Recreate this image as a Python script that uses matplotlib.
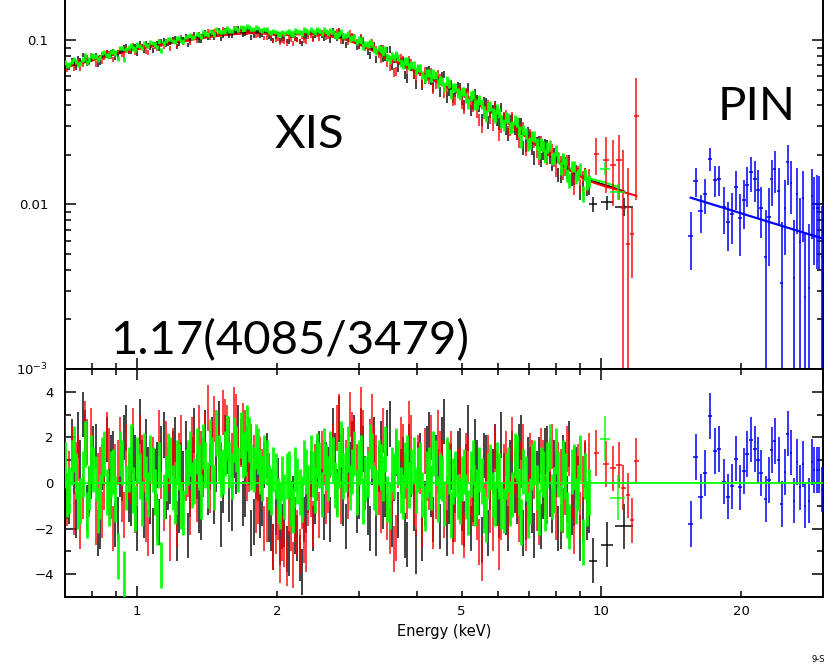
import matplotlib
matplotlib.use("Agg")
import matplotlib.pyplot as plt
import numpy as np
from matplotlib.ticker import (LogLocator, FixedLocator, FuncFormatter,
                               MultipleLocator, NullFormatter)

# ---- XIS spectra, 0.7-9.4 keV; two interleaved sets of bins (keV) ----
xis_e_a = [
    0.700, 0.715, 0.731, 0.747, 0.764, 0.780, 0.798, 0.815, 0.833, 0.851,
    0.870, 0.889, 0.909, 0.929, 0.949, 0.970, 0.991, 1.013, 1.035, 1.058,
    1.081, 1.105, 1.129, 1.154, 1.180, 1.206, 1.232, 1.259, 1.287, 1.315,
    1.344, 1.374, 1.404, 1.435, 1.466, 1.499, 1.531, 1.565, 1.600, 1.635,
    1.671, 1.707, 1.745, 1.783, 1.822, 1.862, 1.903, 1.945, 1.988, 2.032,
    2.076, 2.122, 2.168, 2.216, 2.265, 2.315, 2.365, 2.417, 2.471, 2.525,
    2.580, 2.637, 2.695, 2.754, 2.815, 2.877, 2.940, 3.004, 3.070, 3.138,
    3.207, 3.277, 3.349, 3.423, 3.498, 3.575, 3.654, 3.734, 3.816, 3.900,
    3.986, 4.073, 4.163, 4.254, 4.348, 4.443, 4.541, 4.641, 4.743, 4.847,
    4.954, 5.063, 5.174, 5.288, 5.404, 5.523, 5.645, 5.769, 5.896, 6.026,
    6.158, 6.294, 6.432, 6.574, 6.718, 6.866, 7.017, 7.171, 7.329, 7.491,
    7.655, 7.824, 7.996, 8.172, 8.352, 8.535, 8.723, 8.915, 9.111, 9.311,
]
xis_e_b = [
    0.708, 0.723, 0.739, 0.755, 0.772, 0.789, 0.806, 0.824, 0.842, 0.860,
    0.879, 0.899, 0.919, 0.939, 0.959, 0.980, 1.002, 1.024, 1.046, 1.069,
    1.093, 1.117, 1.141, 1.167, 1.193, 1.219, 1.245, 1.273, 1.301, 1.329,
    1.359, 1.389, 1.419, 1.450, 1.482, 1.515, 1.548, 1.582, 1.617, 1.653,
    1.689, 1.726, 1.764, 1.802, 1.842, 1.882, 1.924, 1.966, 2.010, 2.054,
    2.099, 2.145, 2.192, 2.240, 2.290, 2.340, 2.391, 2.444, 2.498, 2.552,
    2.608, 2.666, 2.724, 2.784, 2.846, 2.908, 2.972, 3.037, 3.104, 3.172,
    3.242, 3.313, 3.386, 3.460, 3.536, 3.614, 3.694, 3.775, 3.858, 3.943,
    4.029, 4.118, 4.208, 4.301, 4.395, 4.492, 4.591, 4.692, 4.795, 4.900,
    5.008, 5.118, 5.231, 5.346, 5.463, 5.584, 5.707, 5.832, 5.961, 6.092,
    6.226, 6.363, 6.503, 6.646, 6.792, 6.941, 7.094, 7.250, 7.410, 7.573,
    7.739, 7.910, 8.084, 8.262, 8.443, 8.629, 8.819, 9.013, 9.211, 9.413,
]
# folded model (counts/s/keV) at those bins, XIS1 normalisation
xis_model_a = [
    0.0705, 0.0716, 0.0728, 0.0739, 0.0751, 0.0763, 0.0775, 0.0787, 0.0799, 0.0811,
    0.0826, 0.0840, 0.0855, 0.0867, 0.0879, 0.0892, 0.0905, 0.0915, 0.0924, 0.0934,
    0.0944, 0.0955, 0.0965, 0.0976, 0.0988, 0.0999, 0.1010, 0.1020, 0.1030, 0.1040,
    0.1050, 0.1060, 0.1070, 0.1080, 0.1088, 0.1096, 0.1104, 0.1112, 0.1120, 0.1126,
    0.1131, 0.1135, 0.1138, 0.1140, 0.1140, 0.1135, 0.1128, 0.1118, 0.1110, 0.1108,
    0.1110, 0.1114, 0.1118, 0.1120, 0.1121, 0.1122, 0.1120, 0.1118, 0.1112, 0.1106,
    0.1095, 0.1084, 0.1071, 0.1056, 0.1038, 0.1018, 0.0996, 0.0972, 0.0947, 0.0922,
    0.0895, 0.0870, 0.0845, 0.0820, 0.0795, 0.0772, 0.0749, 0.0727, 0.0705, 0.0684,
    0.0663, 0.0644, 0.0624, 0.0606, 0.0588, 0.0570, 0.0553, 0.0535, 0.0519, 0.0502,
    0.0487, 0.0470, 0.0454, 0.0438, 0.0422, 0.0407, 0.0393, 0.0379, 0.0366, 0.0353,
    0.0337, 0.0322, 0.0308, 0.0294, 0.0280, 0.0267, 0.0254, 0.0242, 0.0231, 0.0220,
    0.0210, 0.0200, 0.0191, 0.0182, 0.0174, 0.0167, 0.0161, 0.0155, 0.0150, 0.0146,
]
xis_model_b = [
    0.0711, 0.0722, 0.0734, 0.0745, 0.0757, 0.0769, 0.0781, 0.0793, 0.0805, 0.0818,
    0.0833, 0.0848, 0.0861, 0.0873, 0.0885, 0.0899, 0.0910, 0.0920, 0.0929, 0.0939,
    0.0950, 0.0960, 0.0971, 0.0982, 0.0994, 0.1005, 0.1015, 0.1025, 0.1035, 0.1045,
    0.1055, 0.1065, 0.1075, 0.1084, 0.1092, 0.1100, 0.1108, 0.1116, 0.1123, 0.1129,
    0.1133, 0.1137, 0.1139, 0.1140, 0.1138, 0.1132, 0.1123, 0.1114, 0.1109, 0.1109,
    0.1112, 0.1116, 0.1119, 0.1121, 0.1122, 0.1121, 0.1119, 0.1115, 0.1109, 0.1101,
    0.1090, 0.1078, 0.1064, 0.1047, 0.1028, 0.1007, 0.0984, 0.0960, 0.0935, 0.0909,
    0.0883, 0.0858, 0.0833, 0.0808, 0.0784, 0.0761, 0.0738, 0.0716, 0.0695, 0.0674,
    0.0654, 0.0634, 0.0615, 0.0597, 0.0579, 0.0562, 0.0544, 0.0527, 0.0511, 0.0495,
    0.0479, 0.0462, 0.0446, 0.0430, 0.0415, 0.0400, 0.0386, 0.0373, 0.0360, 0.0345,
    0.0330, 0.0315, 0.0301, 0.0287, 0.0274, 0.0261, 0.0248, 0.0237, 0.0226, 0.0215,
    0.0205, 0.0196, 0.0187, 0.0178, 0.0171, 0.0164, 0.0158, 0.0153, 0.0148, 0.0144,
]
# relative 1-sigma error, one value per pair of neighbouring bins
xis_relerr = [
    0.036, 0.036, 0.035, 0.035, 0.035, 0.034, 0.034, 0.034, 0.033, 0.033,
    0.033, 0.032, 0.032, 0.032, 0.031, 0.031, 0.031, 0.030, 0.030, 0.030,
    0.030, 0.030, 0.030, 0.030, 0.030, 0.030, 0.030, 0.030, 0.030, 0.030,
    0.030, 0.030, 0.030, 0.030, 0.030, 0.030, 0.030, 0.030, 0.030, 0.030,
    0.030, 0.030, 0.030, 0.030, 0.030, 0.030, 0.030, 0.030, 0.030, 0.030,
    0.031, 0.031, 0.032, 0.032, 0.033, 0.033, 0.034, 0.034, 0.035, 0.035,
    0.036, 0.037, 0.038, 0.039, 0.040, 0.041, 0.042, 0.043, 0.044, 0.045,
    0.046, 0.047, 0.048, 0.049, 0.050, 0.051, 0.052, 0.053, 0.054, 0.055,
    0.056, 0.057, 0.058, 0.059, 0.060, 0.061, 0.062, 0.063, 0.064, 0.065,
    0.066, 0.067, 0.068, 0.069, 0.070, 0.071, 0.072, 0.073, 0.074, 0.075,
    0.076, 0.076, 0.077, 0.077, 0.078, 0.078, 0.079, 0.079, 0.080, 0.080,
    0.081, 0.081, 0.082, 0.082, 0.083, 0.083, 0.084, 0.084, 0.085, 0.085,
]
# cross-normalisation of each XIS unit
xis_norm = {"XIS0": 0.975, "XIS3": 0.965, "XIS1": 1.00}

# residuals (data-model)/sigma, bins a then bins b
res_xis0_a = [
    1.2, -0.8, 0.5, 2.1, 3.0, -1.1, 0.3, 1.6, -1.9, 0.9,
    -0.4, 1.3, -1.6, 0.2, 2.4, -0.9, 1.1, 2.7, -1.4, 0.6,
    -2.1, 0.8, 1.5, -0.6, 0.1, 1.9, -1.2, 0.4, -2.3, 1.0,
    0.3, -1.5, 2.2, 0.7, -0.8, 2.6, -0.3, 1.4, -1.1, 0.5,
    1.8, -0.5, 0.9, -1.7, 0.2, -0.9, 1.2, -2.0, -1.3, -2.6,
    -1.8, -3.1, -0.7, -2.4, -3.9, -1.2, 0.4, -0.8, 1.3, -1.5,
    0.6, 2.3, -0.4, 1.1, -1.9, 0.8, 2.0, -0.6, 1.5, -1.3,
    0.9, -2.2, 1.7, -0.5, 2.6, 0.2, -1.4, 1.0, -2.7, 0.4,
    -3.0, 1.2, -0.9, 2.1, -1.6, 0.5, 1.9, -2.2, 0.7, -0.3,
    1.4, -1.8, 2.4, -0.7, 0.9, -2.5, 1.1, -0.2, 1.6, -1.4,
    0.3, -2.0, 1.3, -0.8, 2.0, -1.5, 0.6, -2.3, 1.0, -0.6,
    1.5, -1.2, 0.4, -1.9, 0.8, 1.7, -0.9, 0.2, -1.6, -1.5,
]
res_xis0_b = [
    -0.6, 1.8, -1.4, 0.9, 2.2, -0.3, 1.5, -2.2, 0.7, 1.9,
    1.1, -1.8, 0.4, 2.0, -0.7, 1.4, -2.0, 0.9, 1.8, -0.8,
    0.5, -1.7, 2.1, -0.2, 1.3, -2.4, 0.8, 1.7, -0.5, 2.3,
    -1.2, 1.0, -0.4, 1.9, 0.6, -1.8, 2.0, -0.7, 1.2, 2.4,
    -0.9, 1.5, -2.2, 0.3, -1.4, 0.8, -1.6, -2.8, 0.1, -1.9,
    -2.9, -0.9, -2.1, -3.3, -1.6, -0.3, -2.0, 1.0, -0.4, 0.8,
    -1.6, 1.2, 2.8, -0.9, 0.4, 1.7, -1.2, 2.3, 0.2, -2.0,
    1.9, 0.6, -1.0, 2.2, -1.8, 1.3, 0.5, -2.3, 1.6, -1.1,
    0.8, -2.4, 1.5, -0.5, 1.1, -1.9, 2.7, -0.8, -1.6, 1.3,
    -1.1, 0.7, -2.0, 1.8, -0.4, 1.2, -2.2, 0.5, -0.9, 2.1,
    -1.3, 0.9, -0.3, 1.6, -2.2, 1.0, -1.2, 0.4, -1.9, 1.4,
    -0.5, 0.9, -2.0, 1.1, -0.7, -1.3, 0.6, -2.4, 0.8, -1.2,
]
res_xis3_a = [
    2.0, 0.4, -1.3, 1.1, -0.6, 1.8, 2.3, -1.7, 0.6, -0.2,
    1.4, -2.0, 0.9, -0.7, 1.6, 0.1, -1.2, 2.0, 0.5, -2.2,
    1.0, -1.5, 0.3, 1.7, -2.4, 0.8, 1.2, -0.9, 0.4, 1.9,
    -0.7, 1.3, 2.1, -0.3, 2.8, 1.5, 3.1, 2.4, 1.2, 2.9,
    1.7, 2.2, 0.6, 1.1, -0.8, 0.5, -1.6, -0.4, -2.1, -3.4,
    -2.7, -1.3, -3.6, -2.2, -1.0, -2.9, -0.5, 0.7, -1.4, 0.9,
    -0.3, 1.6, 2.4, -0.8, 0.9, 3.0, 1.8, -0.4, 2.2, 0.6,
    2.9, 1.1, -1.2, 0.4, -2.1, -2.9, 0.8, 1.6, -0.6, 2.0,
    -1.3, 0.5, 1.4, -0.2, -1.9, 2.2, 0.9, -0.7, 1.3, -1.6,
    0.6, -2.3, 1.0, -0.9, -1.5, -3.3, 0.4, -1.2, 1.5, -2.8,
    0.7, -1.4, 1.9, -0.5, 0.8, -2.0, 1.2, 0.3, -1.7, 0.9,
    -0.8, 1.6, -1.5, 0.5, -0.4, 1.3, -2.1, 0.7, 0.2, -0.9,
]
res_xis3_b = [
    -0.9, 1.5, 0.8, -1.9, 2.6, -0.5, 1.2, 0.3, -1.4, 2.1,
    -0.6, 0.7, 1.9, -1.4, 0.3, 2.3, -0.8, 1.1, -1.6, 0.9,
    -0.4, 2.2, -1.1, 0.6, 1.4, -1.8, 2.0, 0.2, -1.3, 1.1,
    2.4, 0.4, 3.3, 1.7, 2.2, 0.8, 2.7, 1.9, 3.2, 1.4,
    2.5, 0.2, 1.6, -1.2, 1.0, -2.0, 0.3, -2.8, -1.5, -2.4,
    -3.5, -2.0, -1.6, -3.0, -2.5, -0.9, -1.8, 0.2, 1.3, -0.8,
    1.2, 0.3, 2.9, 1.4, -0.6, 2.1, 0.7, 3.2, -0.2, 1.8,
    1.5, -0.4, 2.3, -1.5, -0.5, -2.4, 1.9, 0.3, 2.6, -0.9,
    1.1, -1.8, 0.2, 2.0, -0.6, 1.3, -1.4, 0.8, -2.1, 0.5,
    -1.7, 1.2, -0.4, 0.8, -2.6, -1.0, 1.1, -2.0, 0.4, -1.5,
    1.3, -0.8, 0.5, -1.6, 1.6, -0.6, 0.9, -1.1, 1.4, -0.4,
    1.0, -0.3, 0.8, -1.2, 1.5, -0.6, 0.3, -1.4, 0.9, 1.2,
]
res_xis1_a = [
    0.8, -0.3, 1.5, -1.0, 0.4, -1.4, 1.1, 0.2, -0.6, 1.3,
    -0.9, 0.5, -3.2, 0.9, -0.2, 1.6, -1.1, 0.3, 1.2, -0.5,
    0.6, -1.7, -3.6, 0.2, 1.0, -0.8, 0.7, -1.3, 0.9, -0.1,
    1.4, -0.6, 0.8, 1.8, -0.2, 1.1, 0.5, 2.0, 0.3, 1.5,
    2.1, 1.3, 1.9, 0.6, 1.4, 0.2, 0.9, -0.4, 0.3, -1.0,
    -0.6, 0.4, -1.2, 0.1, -0.7, 0.5, 1.1, -0.3, 0.8, 1.4,
    0.2, 1.0, -0.5, 1.7, 0.6, -0.2, 1.3, 0.9, -0.8, 0.4,
    1.2, -0.4, 0.7, 1.5, -1.0, 0.3, 0.9, -0.6, 1.1, 0.5,
    -0.3, 0.8, -1.1, 0.6, 1.3, -0.7, 0.2, 1.0, -1.4, 0.4,
    -0.8, 0.5, -1.3, 0.9, -0.4, 0.1, -1.6, 0.7, -0.9, 0.3,
    -1.2, 0.6, -0.5, 1.1, -1.7, 0.2, -0.8, 0.9, -1.3, 0.4,
    0.8, -0.6, 1.4, -1.1, 0.3, -1.9, 0.7, -0.2, -2.6, -0.9,
]
res_xis1_b = [
    -0.5, 0.9, 0.3, -0.8, 1.7, -0.2, 0.6, -1.2, 1.0, -0.4,
    0.4, -0.7, 1.3, -4.0, 0.6, -0.3, 1.0, -0.9, 0.2, 1.1,
    -0.4, 0.8, -0.6, 1.2, -0.2, 0.9, -1.0, 0.5, 1.3, 0.1,
    0.7, 1.6, -0.1, 1.0, 2.2, 0.4, 1.3, 0.8, 1.9, 0.6,
    1.2, 2.4, 0.7, 1.6, 0.5, 1.1, -0.2, 0.6, -0.8, 0.2,
    0.3, -0.9, 0.6, -0.4, 0.9, -0.2, 0.4, 1.2, -0.5, 0.7,
    1.3, -0.1, 0.8, 0.3, 1.5, 0.5, -0.4, 1.1, 0.2, 1.6,
    -0.2, 0.9, 0.2, -0.7, 0.6, 1.4, -0.3, 0.8, -0.1, 1.0,
    0.6, -0.5, 0.4, -0.2, 0.9, 0.3, -0.9, 0.5, 0.1, -0.6,
    0.2, -0.6, 0.4, -0.9, 0.6, -1.2, 0.3, -0.5, 0.8, -1.0,
    0.3, -0.9, 1.2, -0.4, 0.5, -1.4, 0.7, -0.2, 0.6, -1.1,
    1.6, -0.3, 0.4, 0.9, -1.4, 0.5, -0.8, 1.1, 0.3, -0.4,
]

# ---- wide high-energy XIS bins ----
xis0_hi_e = [9.6, 10.3, 11.2]
xis0_hi_hw = [0.2, 0.3, 0.5]
xis0_hi_model = [0.0138, 0.0130, 0.0120]
xis0_hi_sig = [0.0011, 0.0010, 0.0012]
xis0_hi_res = [-3.4, -2.7, -1.9]

xis3_hi_e = [9.75, 10.25, 10.6, 10.9, 11.15, 11.4, 11.65, 11.9]
xis3_hi_hw = [0.12, 0.15, 0.15, 0.15, 0.12, 0.12, 0.12, 0.12]
xis3_hi_model = [0.0134, 0.0128, 0.0125, 0.0122, 0.0119, 0.0117, 0.0115, 0.0113]
xis3_hi_sig = [0.0051, 0.0070, 0.0075, 0.0080, 0.0120, 0.0110, 0.0030, 0.0240]
xis3_hi_res = [1.32, 0.84, 0.64, 0.80, -0.20, -0.54, -1.64, 0.97]

xis1_hi_e = [10.2, 10.85]
xis1_hi_hw = [0.25, 0.40]
xis1_hi_model = [0.0136, 0.0128]
xis1_hi_sig = [0.0015, 0.0013]
xis1_hi_res = [1.95, -0.64]

# ---- HXD/PIN ----
pin_e = [
    15.57, 15.96, 16.36, 16.69, 17.11, 17.54, 17.89, 18.34, 18.71, 19.09,
    19.47, 19.87, 20.26, 20.57, 20.98, 21.40, 21.72, 22.05, 22.60, 22.95,
    23.29, 23.64, 24.12, 24.48, 24.85, 25.21, 25.59, 25.98, 26.37, 26.76,
    27.17, 27.44, 28.00, 28.42, 28.70, 29.13, 29.42, 29.86,
]
pin_model = [
    0.01100, 0.01076, 0.01053, 0.01035, 0.01013, 0.00991, 0.00974, 0.00953, 0.00937, 0.00921,
    0.00905, 0.00889, 0.00874, 0.00863, 0.00848, 0.00833, 0.00823, 0.00812, 0.00795, 0.00784,
    0.00774, 0.00764, 0.00751, 0.00741, 0.00731, 0.00722, 0.00713, 0.00704, 0.00694, 0.00686,
    0.00677, 0.00671, 0.00659, 0.00650, 0.00645, 0.00637, 0.00631, 0.00623,
]
pin_sig = [
    0.0025, 0.0028, 0.0024, 0.0027, 0.0030, 0.0030, 0.0030, 0.0031, 0.0026, 0.0030,
    0.0034, 0.0034, 0.0035, 0.0036, 0.0038, 0.0040, 0.0040, 0.0033, 0.0045, 0.0042,
    0.0045, 0.0048, 0.0045, 0.0045, 0.0046, 0.0050, 0.0048, 0.0045, 0.0050, 0.0050,
    0.0050, 0.0040, 0.0045, 0.0052, 0.0052, 0.0055, 0.0055, 0.0050,
]
pin_res = [
    -1.81, 1.14, -0.60, 0.43, 2.93, 1.40, 1.50, 0.06, -0.60, -0.15,
    1.07, -0.19, 0.53, 1.27, 1.90, 1.50, 1.01, 0.43, -0.70, 0.14,
    1.45, 1.84, 1.01, -0.91, 0.49, 2.17, 1.33, -0.77, 0.93, -0.19,
    0.83, -0.99, -0.77, 0.93, 0.58, 0.58, 0.58, -0.29,
]
pin_hw = 0.18
pin_line_e = [15.57, 30.0]
pin_line = [0.0110, 0.0062]

chi2_text = "1.17(4085/3479)"

colors = {"XIS0": "#000000", "XIS3": "#ff0000", "XIS1": "#00ff00", "PIN": "#0000ff"}
# XIS1 is drawn last and a little heavier so it sits on top of the band
bar_lw = {"XIS0": 1.3, "XIS3": 1.3, "XIS1": 2.0}
bar_alpha = {"XIS0": 0.8, "XIS3": 0.8, "XIS1": 0.95}

fig = plt.figure(figsize=(8.28, 6.65), dpi=100)
ax1 = fig.add_axes([65 / 828, 296 / 665, 758 / 828, 369 / 665])
ax2 = fig.add_axes([65 / 828, 68 / 665, 758 / 828, 228 / 665], sharex=ax1)

e = np.r_[xis_e_a, xis_e_b]
model = np.r_[xis_model_a, xis_model_b]
rel = np.r_[xis_relerr, xis_relerr]
order = np.argsort(e)

cams = [
    ("XIS0", res_xis0_a + res_xis0_b, xis0_hi_e, xis0_hi_hw, xis0_hi_model, xis0_hi_sig, xis0_hi_res),
    ("XIS3", res_xis3_a + res_xis3_b, xis3_hi_e, xis3_hi_hw, xis3_hi_model, xis3_hi_sig, xis3_hi_res),
    ("XIS1", res_xis1_a + res_xis1_b, xis1_hi_e, xis1_hi_hw, xis1_hi_model, xis1_hi_sig, xis1_hi_res),
]

for name, res, he, hhw, hmod, hsig, hres in cams:
    c = colors[name]
    res = np.array(res)
    m = model * xis_norm[name]
    sig = m * rel
    flux = m + res * sig
    he, hmod, hsig, hres = map(np.array, (he, hmod, hsig, hres))
    hflux = hmod + hres * hsig

    ax1.plot(np.r_[e[order], he], np.r_[m[order], hmod], color=c, lw=1.4, zorder=2)
    ax1.errorbar(e, flux, yerr=sig, fmt="none", ecolor=c, elinewidth=bar_lw[name],
                 alpha=bar_alpha[name], zorder=3)
    ax1.errorbar(he, hflux, yerr=hsig, xerr=hhw, fmt="none", ecolor=c,
                 elinewidth=1.3, alpha=0.8, zorder=3)

    ax2.errorbar(e, res, yerr=1.0, fmt="none", ecolor=c, elinewidth=bar_lw[name],
                 alpha=bar_alpha[name], zorder=3)
    ax2.errorbar(he, hres, yerr=1.0, xerr=hhw, fmt="none", ecolor=c,
                 elinewidth=1.3, alpha=0.8, zorder=3)

# PIN spectrum
pe = np.array(pin_e)
pflux = np.array(pin_model) + np.array(pin_res) * np.array(pin_sig)
ax1.plot(pin_line_e, pin_line, color=colors["PIN"], lw=1.6, zorder=4)
ax1.errorbar(pe, pflux, yerr=pin_sig, xerr=pin_hw, fmt="none",
             ecolor=colors["PIN"], elinewidth=1.3, alpha=0.85, zorder=3)
ax2.errorbar(pe, pin_res, yerr=1.0, xerr=pin_hw, fmt="none",
             ecolor=colors["PIN"], elinewidth=1.3, alpha=0.85, zorder=3)

ax2.axhline(0, color="#00ff00", lw=1.3, zorder=5)

# axes
ax1.set_xscale("log")
ax1.set_yscale("log")
ax1.set_xlim(0.7, 30)
ax1.set_ylim(1e-3, 0.175)
ax2.set_ylim(-5, 5)

ylabels = {0.1: "0.1", 0.01: "0.01", 0.001: r"$10^{-3}$"}
ax1.yaxis.set_major_locator(FixedLocator([1e-3, 1e-2, 1e-1]))
ax1.yaxis.set_minor_locator(LogLocator(base=10, subs=np.arange(2, 10)))
ax1.yaxis.set_major_formatter(
    FuncFormatter(lambda v, p: min(ylabels.items(), key=lambda kv: abs(np.log10(kv[0] / v)))[1]))
ax1.yaxis.set_minor_formatter(NullFormatter())

ax2.xaxis.set_major_locator(FixedLocator([1, 10]))
ax2.xaxis.set_minor_locator(LogLocator(base=10, subs=np.arange(2, 10)))


def xfmt(v, p):
    r = round(v)
    if r in (1, 2, 5, 10, 20) and abs(v - r) < 1e-6:
        return str(r)
    return ""


ax2.xaxis.set_major_formatter(FuncFormatter(xfmt))
ax2.xaxis.set_minor_formatter(FuncFormatter(xfmt))
ax2.yaxis.set_major_locator(MultipleLocator(2))
ax2.yaxis.set_minor_locator(MultipleLocator(1))

for ax in (ax1, ax2):
    for s in ax.spines.values():
        s.set_linewidth(1.4)
    ax.tick_params(which="both", direction="in", top=True, right=True,
                   width=1.1, labelsize=9.5)
    ax.tick_params(which="major", length=8)
    ax.tick_params(which="minor", length=4.5)

ax1.spines["top"].set_visible(False)
ax1.tick_params(which="both", top=False, labelbottom=False)
ax1.tick_params(axis="y", which="both", pad=12)
ax2.tick_params(axis="y", which="both", pad=8)
ax2.tick_params(axis="x", which="both", pad=6)

ax2.set_xlabel("Energy (keV)", fontsize=10.5, labelpad=4)

# annotations
big = dict(family="Lato", fontsize=34, color="black")
ax1.text(0.277, 0.60, "XIS", transform=ax1.transAxes, **big)
ax1.text(0.8615, 0.675, "PIN", transform=ax1.transAxes, **big)
ax1.text(0.0594, 0.04, chi2_text, transform=ax1.transAxes, **big)
fig.text(812 / 828, 1 - 662 / 665, "9-S", fontsize=6)

fig.savefig("out.png", dpi=100)
